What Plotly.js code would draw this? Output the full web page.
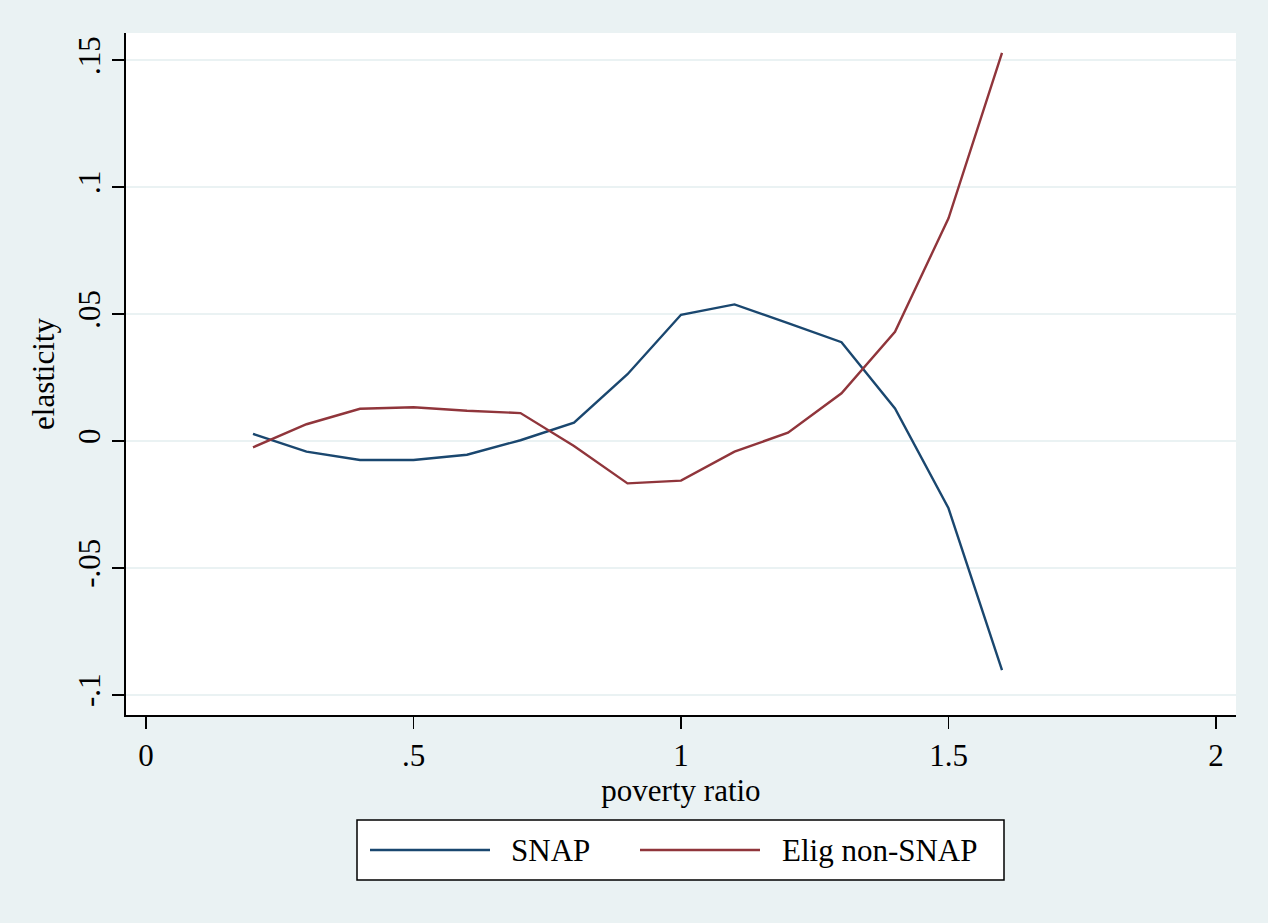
<!DOCTYPE html>
<html>
<head>
<meta charset="utf-8">
<script src="https://cdn.plot.ly/plotly-3.0.1.min.js"></script>
<style>
  html, body { margin: 0; padding: 0; background: #EAF2F3; }
  #chart { width: 1268px; height: 923px; }
</style>
</head>
<body>
<div id="chart"></div>
<script>
// Elasticity by poverty ratio for SNAP recipients and eligible non-recipients
const povertyRatio = [0.2, 0.3, 0.4, 0.5, 0.6, 0.7, 0.8, 0.9, 1.0, 1.1, 1.2, 1.3, 1.4, 1.5, 1.6];
const snap = [0.0028, -0.0042, -0.0075, -0.0075, -0.0054, 0.0003, 0.0072, 0.0263, 0.0497, 0.0538, 0.0464, 0.0389, 0.0128, -0.0265, -0.0902];
const eligNonSnap = [-0.0025, 0.0066, 0.0127, 0.0133, 0.0119, 0.0110, -0.0020, -0.0167, -0.0156, -0.0042, 0.0033, 0.0188, 0.0430, 0.0877, 0.1529];

const seriesNames = ["SNAP", "Elig non-SNAP"];
const seriesColors = ["#1A476F", "#90353B"];

const xTickVals = [0, 0.5, 1, 1.5, 2];
const xTickText = ["0", ".5", "1", "1.5", "2"];
const yTickVals = [-0.1, -0.05, 0, 0.05, 0.1, 0.15];
const yTickText = ["-.1", "-.05", "0", ".05", ".1", ".15"];

const W = 1268, H = 923;
const M = { l: 126, r: 32, t: 33, b: 208 };
const plotW = W - M.l - M.r, plotH = H - M.t - M.b;
// pixel -> paper helpers for the hand-built legend box
const px = v => (v - M.l) / plotW;
const py = v => (H - M.b - v) / plotH;

const font = "Liberation Serif, Times New Roman, serif";
const bg = "#EAF2F3";

const traces = [
  { x: povertyRatio, y: snap, name: seriesNames[0], type: "scatter", mode: "lines",
    line: { color: seriesColors[0], width: 2.4 } },
  { x: povertyRatio, y: eligNonSnap, name: seriesNames[1], type: "scatter", mode: "lines",
    line: { color: seriesColors[1], width: 2.4 } }
];

// Legend: framed box with long line samples
const legendLines = [[370, 490], [640, 760]];
const legendTextX = [509, 780];
const legendY = 850;

const shapes = [
  { type: "rect", xref: "paper", yref: "paper",
    x0: px(357), x1: px(1004), y0: py(880), y1: py(820),
    line: { color: "#000000", width: 1.5 }, fillcolor: "#FFFFFF", layer: "above" }
];
const annotations = [];
seriesNames.forEach((name, i) => {
  shapes.push({ type: "line", xref: "paper", yref: "paper",
    x0: px(legendLines[i][0]), x1: px(legendLines[i][1]), y0: py(legendY), y1: py(legendY),
    line: { color: seriesColors[i], width: 2.4 }, layer: "above" });
  annotations.push({ xref: "paper", yref: "paper", x: px(legendTextX[i]), y: py(legendY),
    xanchor: "left", yanchor: "middle", showarrow: false, text: name,
    font: { family: font, size: 31, color: "#000000" } });
});

const layout = {
  width: W, height: H,
  margin: M,
  paper_bgcolor: bg,
  plot_bgcolor: "#FFFFFF",
  showlegend: false,
  font: { family: font, size: 31, color: "#000000" },
  xaxis: {
    range: [(126 - 146) / 535, (1236 - 146) / 535],
    tickvals: xTickVals, ticktext: xTickText,
    ticks: "outside", ticklen: 12, tickwidth: 1.5, tickcolor: "#000000",
    showline: true, linecolor: "#000000", linewidth: 2,
    showgrid: false, zeroline: false,
    tickfont: { family: font, size: 31, color: "#000000" },
    title: { text: "poverty ratio", standoff: 2, font: { family: font, size: 31, color: "#000000" } }
  },
  yaxis: {
    range: [(441 - 715) / 2539, (441 - 33) / 2539],
    tickvals: yTickVals, ticktext: yTickText, tickangle: -90,
    ticks: "outside", ticklen: 12, tickwidth: 1.5, tickcolor: "#000000",
    showline: true, linecolor: "#000000", linewidth: 2,
    showgrid: true, gridcolor: bg, gridwidth: 2, zeroline: false,
    tickfont: { family: font, size: 31, color: "#000000" },
    title: { text: "elasticity", standoff: 8, font: { family: font, size: 31, color: "#000000" } }
  },
  shapes: shapes,
  annotations: annotations
};

Plotly.newPlot("chart", traces, layout, { displayModeBar: false, staticPlot: true });
</script>
</body>
</html>
